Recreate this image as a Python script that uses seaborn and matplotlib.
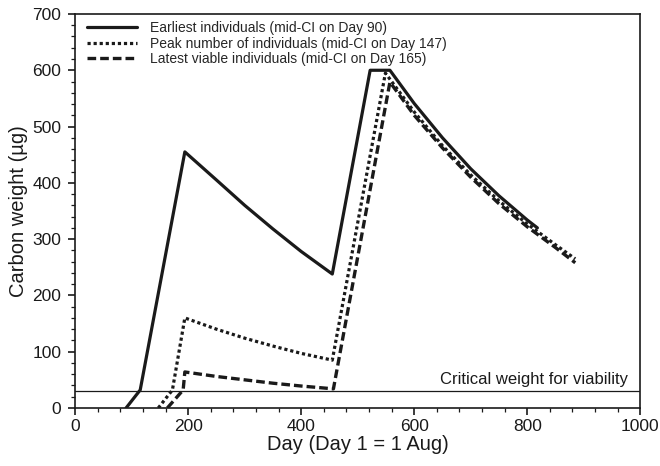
import matplotlib
matplotlib.use("Agg")
import matplotlib.pyplot as plt
from matplotlib.ticker import MultipleLocator
import seaborn as sns
import pandas as pd

# Carbon weight trajectories (day, µg C) for three cohorts
earliest_day = [90, 115, 194, 250, 300, 350, 400, 455, 522, 557, 600, 650, 700, 750, 800, 818]
earliest_wt = [0, 32, 455, 405, 360, 318, 278, 238, 600, 600, 541, 480, 425, 377, 334, 320]

peak_day = [147, 172, 194, 250, 300, 350, 400, 455, 549, 600, 650, 700, 750, 800, 850, 885]
peak_wt = [0, 32, 160, 140, 124, 110, 97, 85, 595, 526, 466, 414, 368, 327, 290, 265]

latest_day = [163, 191, 194, 250, 300, 350, 400, 457, 557, 600, 650, 700, 750, 800, 850, 885]
latest_wt = [0, 32, 64, 56, 50, 44, 39, 34, 579, 520, 462, 410, 363, 322, 285, 258]

labels = [
    "Earliest individuals (mid-CI on Day 90)",
    "Peak number of individuals (mid-CI on Day 147)",
    "Latest viable individuals (mid-CI on Day 165)",
]
critical_weight = 30

sns.set_style("ticks")
plt.rcParams["font.family"] = ["Liberation Sans", "DejaVu Sans"]

fig = plt.figure(figsize=(6.6, 4.66), dpi=100)
ax = fig.add_axes([0.114, 0.1245, 0.856, 0.8455])

series = [
    (earliest_day, earliest_wt, labels[0], "-", 2.3),
    (peak_day, peak_wt, labels[1], (0, (1, 0.9)), 2.3),
    (latest_day, latest_wt, labels[2], (0, (2.6, 1.2)), 2.4),
]
for days, wts, lab, ls, lw in series:
    df = pd.DataFrame({"day": days, "weight": wts})
    sns.lineplot(data=df, x="day", y="weight", ax=ax, color="#1a1a1a",
                 linestyle=ls, linewidth=lw, label=lab, sort=False,
                 estimator=None)

ax.axhline(critical_weight, color="#1a1a1a", linewidth=0.9)
ax.text(979, critical_weight + 8, "Critical weight for viability",
        ha="right", va="bottom", fontsize=12, color="#1a1a1a")

ax.set_xlim(0, 1000)
ax.set_ylim(0, 700)
ax.xaxis.set_major_locator(MultipleLocator(200))
ax.xaxis.set_minor_locator(MultipleLocator(40))
ax.yaxis.set_major_locator(MultipleLocator(100))
ax.yaxis.set_minor_locator(MultipleLocator(20))
ax.tick_params(which="major", direction="out", length=5, width=1.2,
               labelsize=12.5, colors="#1a1a1a")
ax.tick_params(axis="x", which="major", pad=3)
ax.tick_params(axis="y", which="major", pad=5)
ax.tick_params(which="minor", direction="out", length=3, width=0.9,
               colors="#1a1a1a")
for side in ["left", "bottom", "top", "right"]:
    ax.spines[side].set_visible(True)
    ax.spines[side].set_color("#1a1a1a")
    ax.spines[side].set_linewidth(1.2)

ax.set_xlabel("Day (Day 1 = 1 Aug)", fontsize=14.5, color="#1a1a1a", labelpad=1)
ax.set_ylabel("Carbon weight (µg)", fontsize=14.5, color="#1a1a1a", labelpad=3)

leg = ax.legend(loc="upper left", frameon=False, fontsize=10,
                handlelength=3.6, handletextpad=0.9, labelspacing=0.1,
                borderaxespad=0.0, bbox_to_anchor=(0.011, 0.996))

fig.savefig("out.png", dpi=100)
